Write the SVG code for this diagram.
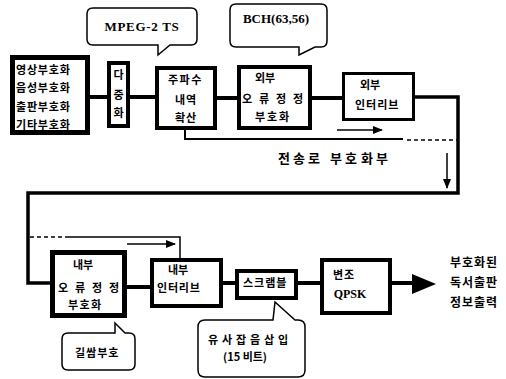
<svg xmlns="http://www.w3.org/2000/svg" width="506" height="379" viewBox="0 0 506 379">
<style>
.box{fill:#fff;stroke:#000}
.k{font-family:"Noto Sans CJK KR","Noto Sans",sans-serif;font-weight:bold;font-size:11px;fill:#000}
.s{font-family:"Liberation Serif",serif;font-weight:bold;fill:#000}
.ln{fill:none;stroke:#000}
.co{fill:#fff;stroke:#000;stroke-width:1.5}
</style>
<defs>
<marker id="ah" viewBox="0 0 10 8" refX="9" refY="4" markerWidth="10" markerHeight="8" markerUnits="userSpaceOnUse" orient="auto"><path d="M0,0 L10,4 L0,8 Z" fill="#000"/></marker>
</defs>
<g id="connectors">
<path class="ln" stroke-width="4" d="M90,97 H107 M130,97 H155 M217,98 H237 M312,98 H342 M127,287 H150 M223,283 H235 M298,283 H320 M392,283 H414"/>
<path class="ln" stroke-width="3.5" d="M415,97 H458 V193 H28 V283 H50"/>
<path class="ln" stroke-width="2" d="M185,130 V139 H403"/>
<path class="ln" stroke-width="1.5" stroke-dasharray="4 3" d="M407,140 H457"/>
<path class="ln" stroke-width="1.5" d="M337,130 H382" marker-end="url(#ah)"/>
<path class="ln" stroke-width="1.5" d="M447,153 V188" marker-end="url(#ah)"/>
<path class="ln" stroke-width="1.5" stroke-dasharray="4 3" d="M30,237 H68"/>
<path class="ln" stroke-width="1.5" d="M68,237 H180 V258"/>
<path class="ln" stroke-width="1.5" d="M127,244 H175" marker-end="url(#ah)"/>
<polygon points="412,274 436,284 412,294" fill="#000"/>
</g>
<g id="src">
<rect class="box" x="12.5" y="57.5" width="75" height="75" stroke-width="5"/>
<text class="k" letter-spacing="0.8"><tspan x="16" y="74">영상부호화</tspan><tspan x="16" y="92">음성부호화</tspan><tspan x="16" y="111">출판부호화</tspan><tspan x="16" y="129">기타부호화</tspan></text>
</g>
<g id="mux">
<rect class="box" x="109" y="63" width="19" height="63" stroke-width="4"/>
<text class="k" text-anchor="middle"><tspan x="118.5" y="79">다</tspan><tspan x="118.5" y="99">중</tspan><tspan x="118.5" y="117">화</tspan></text>
</g>
<g id="spread">
<rect class="box" x="157" y="68" width="58" height="60" stroke-width="4"/>
<text class="k"><tspan x="168" y="84" letter-spacing="1.5">주파수</tspan><tspan x="175" y="104" letter-spacing="1">내역</tspan><tspan x="175" y="122" letter-spacing="1">확산</tspan></text>
</g>
<g id="outer-fec">
<rect class="box" x="239" y="67" width="71" height="61" stroke-width="4"/>
<text class="k"><tspan x="255" y="82">외부</tspan><tspan x="242 259 276 293" y="103">오류정정</tspan><tspan x="255 267 279" y="121">부호화</tspan></text>
</g>
<g id="outer-il">
<rect class="box" x="343.5" y="73.5" width="70" height="46" stroke-width="3"/>
<text class="k"><tspan x="360" y="89">외부</tspan><tspan x="355" y="109" letter-spacing="1">인터리브</tspan></text>
</g>
<g id="label-channel">
<text class="k" font-size="13" style="font-size:13px"><tspan x="278 293 308" y="163">전송로</tspan><tspan x="330 345 361 376" y="163">부호화부</tspan></text>
</g>
<g id="inner-fec">
<rect class="box" x="52.5" y="252.5" width="72" height="63" stroke-width="5"/>
<text class="k"><tspan x="73" y="269">내부</tspan><tspan x="58 75 92 109" y="292">오류정정</tspan><tspan x="68 79.5 91" y="309">부호화</tspan></text>
</g>
<g id="inner-il">
<rect class="box" x="152" y="260" width="69" height="46" stroke-width="4"/>
<text class="k"><tspan x="168" y="274">내부</tspan><tspan x="157" y="292" letter-spacing="0.8">인터리브</tspan></text>
</g>
<g id="scrambler">
<rect class="box" x="237" y="271" width="59" height="27" stroke-width="4"/>
<text class="k" x="243" y="287" letter-spacing="1">스크램블</text>
</g>
<g id="modulator">
<rect class="box" x="322" y="260" width="68" height="53" stroke-width="4"/>
<text class="k" x="333" y="279" letter-spacing="1">변조</text>
<text class="s" x="350" y="298" font-size="12" text-anchor="middle">QPSK</text>
</g>
<g id="output">
<text class="k" style="font-size:12px"><tspan x="450 462 474 486" y="267">부호화된</tspan><tspan x="450 462 474 486" y="287">독서출판</tspan><tspan x="450 462 474 486" y="307">정보출력</tspan></text>
</g>
<g id="note-mpeg">
<path class="co" d="M93,8 H191 Q197,8 197,14 V39 Q197,45 191,45 H170 L158,55 V45 H93 Q87,45 87,39 V14 Q87,8 93,8 Z"/>
<text class="s" x="142" y="31" font-size="13" letter-spacing="0.7" text-anchor="middle">MPEG-2 TS</text>
</g>
<g id="note-bch">
<path class="co" d="M236,4 H321 Q327,4 327,10 V41 Q327,47 321,47 H315 L299,55 V47 H236 Q230,47 230,41 V10 Q230,4 236,4 Z"/>
<text class="s" x="276" y="23" font-size="13" text-anchor="middle">BCH(63,56)</text>
</g>
<g id="note-conv">
<path class="co" d="M68,333 H115 V323 L125,333 H129 Q135,333 135,339 V364 Q135,370 129,370 H68 Q62,370 62,364 V339 Q62,333 68,333 Z"/>
<text class="k" x="75" y="357" letter-spacing="1">길쌈부호</text>
</g>
<g id="note-pn">
<path class="co" d="M205,320 H273 L275,302 L295,320 H298 Q305,320 305,327 V370 Q305,377 298,377 H205 Q198,377 198,370 V327 Q198,320 205,320 Z"/>
<text class="k"><tspan x="208 222 236 250 264 278" y="344">유사잡음삽입</tspan><tspan x="223" y="361">(15 비트)</tspan></text>
</g>
</svg>
